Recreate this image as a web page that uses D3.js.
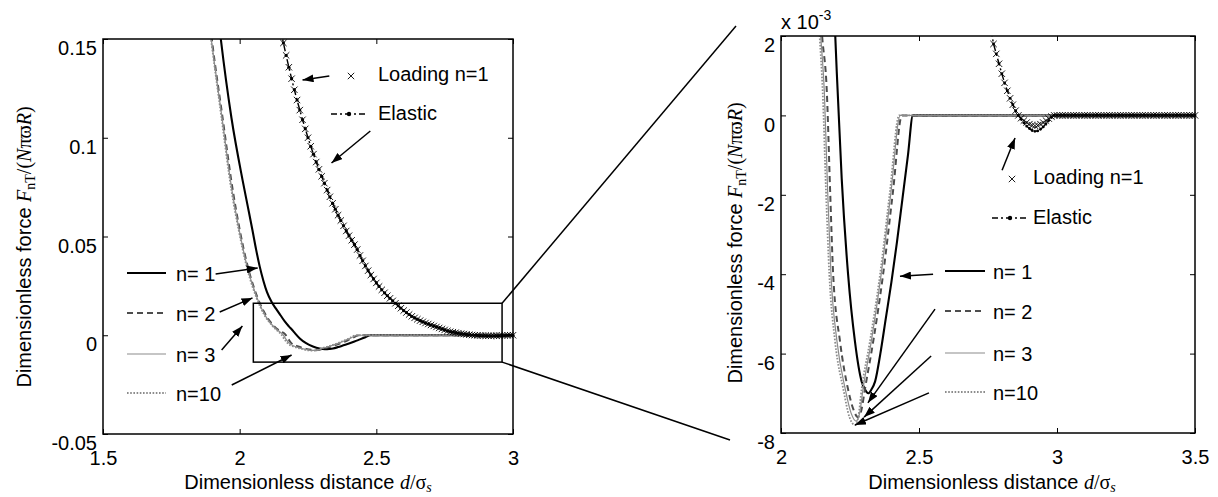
<!DOCTYPE html>
<html><head><meta charset="utf-8">
<script src="https://cdn.jsdelivr.net/npm/d3@7"></script>
<style>body{margin:0;background:#fff}svg{display:block}</style>
</head><body>
<script>
// ---------------- DATA ----------------
// Normal force curves for different cycle counts n (x = d/sigma_s, y = dimensionless force)
const n1X  = [1.91,1.931,1.97,2.011,2.03,2.047,2.06,2.073,2.087,2.10,2.117,2.134,2.15,2.165,2.18,2.196,2.202,2.22,2.243,2.268,2.292,2.304,2.316,2.328,2.341,2.36,2.38,2.40,2.42,2.44,2.46,2.478,3.5];
const n1Y  = [0.176,0.15,0.110,0.0783,0.0650,0.053,0.0435,0.0350,0.0275,0.0218,0.0168,0.0132,0.0100,0.0070,0.0045,0.0021,0.0011,-0.0016,-0.0040,-0.0057,-0.0067,-0.0069,-0.0070,-0.0069,-0.0067,-0.0060,-0.0051,-0.0042,-0.0032,-0.0021,-0.0010,0,0];
const n2X  = [1.88,1.898,1.937,1.975,2.0,2.03,2.066,2.10,2.125,2.149,2.166,2.178,2.189,2.214,2.243,2.262,2.279,2.292,2.304,2.334,2.37,2.406,2.438,3.5];
const n2Y  = [0.172,0.15,0.1106,0.0732,0.0535,0.0345,0.0188,0.0092,0.0047,0.0020,0.0006,-0.0019,-0.0040,-0.0057,-0.0069,-0.0074,-0.0076,-0.0074,-0.0069,-0.0057,-0.0040,-0.0019,0,0];
const n3X  = [1.877,1.896,1.935,1.972,1.998,2.028,2.064,2.097,2.122,2.144,2.157,2.169,2.181,2.203,2.233,2.254,2.272,2.285,2.297,2.327,2.363,2.399,2.432,3.5];
const n3Y  = [0.172,0.15,0.1106,0.0732,0.0535,0.0345,0.0188,0.0092,0.0047,0.0020,0.0006,-0.0019,-0.0040,-0.0057,-0.0069,-0.0075,-0.0077,-0.0075,-0.0069,-0.0057,-0.0040,-0.0019,0,0];
const n10X = [1.875,1.895,1.933,1.97,1.996,2.026,2.062,2.095,2.12,2.14,2.151,2.163,2.175,2.196,2.226,2.248,2.268,2.28,2.292,2.322,2.359,2.395,2.428,3.5];
const n10Y = [0.172,0.15,0.1106,0.0732,0.0535,0.0345,0.0188,0.0092,0.0047,0.0020,0.0006,-0.0019,-0.0040,-0.0057,-0.0069,-0.0076,-0.0078,-0.0076,-0.0069,-0.0057,-0.0040,-0.0019,0,0];

// Elastic / Loading n=1 curve, sampled on the grid used in the figure
const gridX = [
2.15,2.16,2.17,2.18,2.19,2.20,2.21,2.22,2.23,2.24,
2.25,2.26,2.27,2.28,2.29,2.30,2.31,2.32,2.33,2.34,
2.35,2.36,2.37,2.38,2.39,2.40,2.41,2.42,2.43,2.44,
2.45,2.46,2.47,2.48,2.49,2.50,2.51,2.52,2.53,2.54,
2.55,2.56,2.57,2.58,2.59,2.60,2.61,2.62,2.63,2.64,
2.65,2.66,2.67,2.68,2.69,2.70,2.71,2.72,2.73,2.74,
2.75,2.76,2.77,2.78,2.79,2.80,2.81,2.82,2.83,2.84,
2.85,2.86,2.87,2.88,2.89,2.90,2.91,2.92,2.93,2.94,
2.95,2.96,2.97,2.98,2.99,3.00,3.01,3.02,3.03,3.04,
3.05,3.06,3.07,3.08,3.09,3.10,3.11,3.12,3.13,3.14,
3.15,3.16,3.17,3.18,3.19,3.20,3.21,3.22,3.23,3.24,
3.25,3.26,3.27,3.28,3.29,3.30,3.31,3.32,3.33,3.34,
3.35,3.36,3.37,3.38,3.39,3.40,3.41,3.42,3.43,3.44,
3.45,3.46,3.47,3.48,3.49,3.50];
const elasticY = [
0.1547,0.1480,0.1417,0.1357,0.1299,0.1243,0.1191,0.1140,0.1091,0.1045,
0.1000,0.0957,0.0917,0.0877,0.0840,0.0805,0.0770,0.0735,0.0701,0.0668,
0.0638,0.0608,0.0581,0.0554,0.0528,0.0504,0.0481,0.0459,0.0434,0.0404,
0.0377,0.0351,0.0327,0.0305,0.0285,0.0265,0.0247,0.0230,0.0215,0.0200,
0.0187,0.0174,0.0162,0.0149,0.0137,0.0125,0.0115,0.0105,0.0096,0.0088,
0.0081,0.0074,0.0068,0.0062,0.0057,0.0052,0.0047,0.0042,0.0037,0.0032,
0.0027,0.0022,0.0018,0.00155,0.0013,0.00105,0.00082,0.00062,0.00043,0.00027,
0.00012,0,-0.00010,-0.00019,-0.00027,-0.00033,-0.00038,-0.00040,-0.00039,-0.00035,
-0.00029,-0.00021,-0.00013,-0.00005,0,0,0,0,0,0,
0,0,0,0,0,0,0,0,0,0,
0,0,0,0,0,0,0,0,0,0,
0,0,0,0,0,0,0,0,0,0,
0,0,0,0,0,0,0,0,0,0,
0,0,0,0,0,0];
const loadingY = [
0.1547,0.1480,0.1417,0.1357,0.1299,0.1243,0.1191,0.1140,0.1091,0.1045,
0.1000,0.0957,0.0917,0.0877,0.0840,0.0805,0.0770,0.0735,0.0701,0.0668,
0.0638,0.0608,0.0581,0.0554,0.0528,0.0504,0.0481,0.0459,0.0434,0.0404,
0.0377,0.0351,0.0327,0.0305,0.0285,0.0265,0.0247,0.0230,0.0215,0.0200,
0.0187,0.0174,0.0162,0.0149,0.0137,0.0125,0.0115,0.0105,0.0096,0.0088,
0.0081,0.0074,0.0068,0.0062,0.0057,0.0052,0.0047,0.0042,0.0037,0.0032,
0.0027,0.0022,0.0018,0.00155,0.0013,0.00105,0.00082,0.00062,0.00043,0.00027,
0.00012,0,-0.00007,-0.00013,-0.00018,-0.00022,-0.00025,-0.00026,-0.00025,-0.00022,
-0.00018,-0.00013,-0.00008,-0.00003,0,0,0,0,0,0,
0,0,0,0,0,0,0,0,0,0,
0,0,0,0,0,0,0,0,0,0,
0,0,0,0,0,0,0,0,0,0,
0,0,0,0,0,0,0,0,0,0,
0,0,0,0,0,0];

const legendLabels = ["n= 1","n= 2","n= 3","n=10"];
const leftXTicks  = [1.5,2,2.5,3];
const leftYTicks  = [-0.05,0,0.05,0.1,0.15];
const rightXTicks = [2,2.5,3,3.5];
const rightYTicks = [-0.008,-0.006,-0.004,-0.002,0,0.002];
const rightYTickLabels = ["-8","-6","-4","-2","0","2"];

// zoom box drawn in the left panel (data units)
const zoomBoxX = [2.05, 2.96];
const zoomBoxY = [-0.0136, 0.0162];

// annotation arrows [tailX, tailY, tipX, tipY] in data units
const leftArrows = [
  [1.912,0.0310,2.066,0.0341],
  [1.927,0.0118,2.047,0.0189],
  [1.934,-0.0075,2.010,0.0047],
  [1.971,-0.0252,2.190,-0.0100],
  [2.328,0.1313,2.230,0.1292],
  [2.478,0.1034,2.336,0.0872]
];
const rightArrows = [
  [2.551,-0.00400,2.431,-0.00405],
  [2.558,-0.00488,2.315,-0.00724],
  [2.544,-0.00606,2.301,-0.00760],
  [2.536,-0.00699,2.268,-0.00780],
  [2.801,-0.00138,2.848,-0.00057]
];

// ---------------- STYLE / LAYOUT ----------------
const SANS = "'Liberation Sans',Arial,Helvetica,sans-serif";
const SERIF = "'Liberation Serif','Times New Roman',serif";
const seriesDefs = [
  {x:n1X,  y:n1Y,  stroke:"#000",    w:2.1, dash:null},
  {x:n2X,  y:n2Y,  stroke:"#4d4d4d", w:2.0, dash:"6,4"},
  {x:n3X,  y:n3Y,  stroke:"#8c8c8c", w:1.2, dash:null},
  {x:n10X, y:n10Y, stroke:"#8c8c8c", w:1.8, dash:"1.6,1.6"}
];

const svg = d3.select("body").append("svg").attr("width",1218).attr("height",497)
  .style("font-family",SANS);
const defs = svg.append("defs");
defs.append("marker").attr("id","ah").attr("viewBox","0 0 11 8").attr("refX",11).attr("refY",4)
  .attr("markerWidth",11).attr("markerHeight",8).attr("markerUnits","userSpaceOnUse")
  .attr("orient","auto").append("path").attr("d","M0,0L11,4L0,8Z").attr("fill","#000");

function drawPanel(p){
  const x = d3.scaleLinear().domain(p.xDomain).range([p.left,p.right]);
  const y = d3.scaleLinear().domain(p.yDomain).range([p.bottom,p.top]);
  const cid = "clip"+p.name;
  defs.append("clipPath").attr("id",cid).append("rect")
    .attr("x",p.left).attr("y",p.top).attr("width",p.right-p.left).attr("height",p.bottom-p.top);
  const g = svg.append("g");
  const plot = g.append("g").attr("clip-path",`url(#${cid})`);
  const smooth = d3.line().x(d=>x(d[0])).y(d=>y(d[1])).curve(d3.curveMonotoneX);
  const lin = d3.line().x(d=>x(d[0])).y(d=>y(d[1]));
  const inside = d => d[0]>=p.xDomain[0]-1e-9 && d[0]<=p.xDomain[1]+1e-9 && d[1]>=p.yDomain[0]-1e-9 && d[1]<=p.yDomain[1]+1e-9;

  // elastic curve (dash-dot with dots)
  const el = d3.zip(gridX, elasticY);
  plot.append("path").datum(el).attr("d",lin).attr("fill","none")
    .attr("stroke","#000").attr("stroke-width",1.4).attr("stroke-dasharray","7,3,2,3");
  g.append("g").selectAll("circle").data(el.filter(inside)).join("circle")
    .attr("cx",d=>x(d[0])).attr("cy",d=>y(d[1])).attr("r",p.dotR).attr("fill","#000");

  // n curves
  seriesDefs.forEach(s=>{
    plot.append("path").datum(d3.zip(s.x,s.y)).attr("d",smooth).attr("fill","none")
      .attr("stroke",s.stroke).attr("stroke-width",s.w)
      .attr("stroke-dasharray",s.dash);
  });

  // loading markers
  const ld = d3.zip(gridX, loadingY).filter(inside);
  const m = 3.2;
  g.append("g").selectAll("path").data(ld).join("path")
    .attr("d",d=>`M${x(d[0])-m},${y(d[1])-m}L${x(d[0])+m},${y(d[1])+m}M${x(d[0])-m},${y(d[1])+m}L${x(d[0])+m},${y(d[1])-m}`)
    .attr("stroke","#000").attr("stroke-width",0.9).attr("fill","none");

  // axes
  const styleAxis = sel => {
    sel.select(".domain").remove();
    sel.selectAll("line").attr("stroke","#000").attr("stroke-width",1);
    sel.selectAll("text").attr("font-size",20).attr("font-family",SANS).attr("fill","#000");
  };
  g.append("g").attr("transform",`translate(0,${p.bottom})`)
    .call(d3.axisBottom(x).tickValues(p.xTicks).tickFormat(d=>String(d))
      .tickSizeInner(-5).tickSizeOuter(0).tickPadding(17)).call(styleAxis);
  g.append("g").attr("transform",`translate(0,${p.top})`)
    .call(d3.axisTop(x).tickValues(p.xTicks).tickFormat("").tickSizeInner(-5).tickSizeOuter(0)).call(styleAxis);
  const ya = g.append("g").attr("transform",`translate(${p.left},0)`)
    .call(d3.axisLeft(y).tickValues(p.yTicks).tickFormat((d,i)=>p.yFmt(d,i))
      .tickSizeInner(-5).tickSizeOuter(0).tickPadding(6)).call(styleAxis);
  ya.selectAll("text").attr("dy","0.78em");
  g.append("g").attr("transform",`translate(${p.right},0)`)
    .call(d3.axisRight(y).tickValues(p.yTicks).tickFormat("").tickSizeInner(-5).tickSizeOuter(0)).call(styleAxis);
  g.append("rect").attr("x",p.left).attr("y",p.top).attr("width",p.right-p.left).attr("height",p.bottom-p.top)
    .attr("fill","none").attr("stroke","#000").attr("stroke-width",1.5);

  // arrows
  g.append("g").selectAll("line").data(p.arrows).join("line")
    .attr("x1",d=>x(d[0])).attr("y1",d=>y(d[1])).attr("x2",d=>x(d[2])).attr("y2",d=>y(d[3]))
    .attr("stroke","#000").attr("stroke-width",1.5).attr("marker-end","url(#ah)");

  // legend for n
  const lg = g.append("g");
  legendLabels.forEach((lab,i)=>{
    const s = seriesDefs[i], ry = p.legRows[i];
    lg.append("line").attr("x1",p.legX0).attr("x2",p.legX1).attr("y1",ry).attr("y2",ry)
      .attr("stroke",s.stroke).attr("stroke-width",s.w).attr("stroke-dasharray",s.dash);
    lg.append("text").attr("x",p.legTx).attr("y",ry+8).attr("font-size",20).text(lab);
  });
  // loading / elastic legend
  const L = p.le;
  lg.append("path").attr("d",`M${L.mx-m},${L.my-m}L${L.mx+m},${L.my+m}M${L.mx-m},${L.my+m}L${L.mx+m},${L.my-m}`)
    .attr("stroke","#000").attr("stroke-width",0.9);
  lg.append("text").attr("x",L.tx).attr("y",L.ly).attr("font-size",20).text("Loading n=1");
  lg.append("line").attr("x1",L.ex0).attr("x2",L.ex1).attr("y1",L.ey).attr("y2",L.ey)
    .attr("stroke","#000").attr("stroke-width",1.4).attr("stroke-dasharray","6,3,2,3");
  lg.append("circle").attr("cx",(L.ex0+L.ex1)/2).attr("cy",L.ey).attr("r",2.2).attr("fill","#000");
  lg.append("text").attr("x",L.tx).attr("y",L.eyt).attr("font-size",20).text("Elastic");

  // x label
  const xl = svg.append("text").attr("x",p.xlx).attr("y",489)
    .attr("text-anchor","middle").attr("font-size",20);
  xl.append("tspan").text("Dimensionless distance ");
  xl.append("tspan").attr("font-family",SERIF).attr("font-style","italic").text("d");
  xl.append("tspan").attr("font-family",SERIF).text("/σ");
  xl.append("tspan").attr("font-family",SERIF).attr("font-style","italic").attr("font-size",14).attr("dy",3).text("s");

  // y label
  const yl = svg.append("text").attr("transform",`translate(${p.ylx},${p.yly}) rotate(-90)`)
    .attr("text-anchor","middle").attr("font-size",20);
  yl.append("tspan").text("Dimensionless force ");
  yl.append("tspan").attr("font-family",SERIF).attr("font-style","italic").text("F");
  yl.append("tspan").attr("font-family",SERIF).attr("font-size",14).attr("dy",4).text("nT");
  yl.append("tspan").attr("font-family",SERIF).attr("dy",-4).text("/(");
  yl.append("tspan").attr("font-family",SERIF).attr("font-style","italic").text("N");
  yl.append("tspan").attr("font-family",SERIF).text("πϖ");
  yl.append("tspan").attr("font-family",SERIF).attr("font-style","italic").text("R");
  yl.append("tspan").attr("font-family",SERIF).text(")");
  return {x,y,g};
}

const left = drawPanel({
  name:"L", xDomain:[1.5,3], yDomain:[-0.05,0.15], left:103, right:513, top:39, bottom:434,
  xTicks:leftXTicks, yTicks:leftYTicks, yFmt:d=>String(d), dotR:1.6,
  arrows:leftArrows, legRows:[273,313,354,393], legX0:127, legX1:166, legTx:176,
  le:{mx:351,my:76,tx:378,ly:81,ex0:331,ex1:367,ey:114,eyt:120},
  ylx:31, yly:247, xlx:308
});
const right = drawPanel({
  name:"R", xDomain:[2,3.5], yDomain:[-0.008,0.002], left:781, right:1195, top:36, bottom:433,
  xTicks:rightXTicks, yTicks:rightYTicks, yFmt:(d,i)=>rightYTickLabels[i], dotR:1.4,
  arrows:rightArrows, legRows:[271,311,353,392], legX0:945, legX1:985, legTx:993,
  le:{mx:1012,my:179,tx:1033,ly:184,ex0:992,ex1:1028,ey:218,eyt:224},
  ylx:742, yly:243, xlx:992
});

// zoom box and connector lines
const bx0 = left.x(zoomBoxX[0]), bx1 = left.x(zoomBoxX[1]);
const by0 = left.y(zoomBoxY[1]), by1 = left.y(zoomBoxY[0]);
svg.append("rect").attr("x",bx0).attr("y",by0).attr("width",bx1-bx0).attr("height",by1-by0)
  .attr("fill","none").attr("stroke","#000").attr("stroke-width",1.5);
svg.append("line").attr("x1",bx1).attr("y1",by0).attr("x2",736).attr("y2",26).attr("stroke","#000").attr("stroke-width",1.5);
svg.append("line").attr("x1",bx1).attr("y1",by1).attr("x2",730).attr("y2",440).attr("stroke","#000").attr("stroke-width",1.5);

// exponent label
const ex = svg.append("text").attr("x",781).attr("y",29).attr("font-size",20);
ex.append("tspan").text("x 10");
ex.append("tspan").attr("font-size",14).attr("dy",-9).text("-3");
</script>
</body></html>
